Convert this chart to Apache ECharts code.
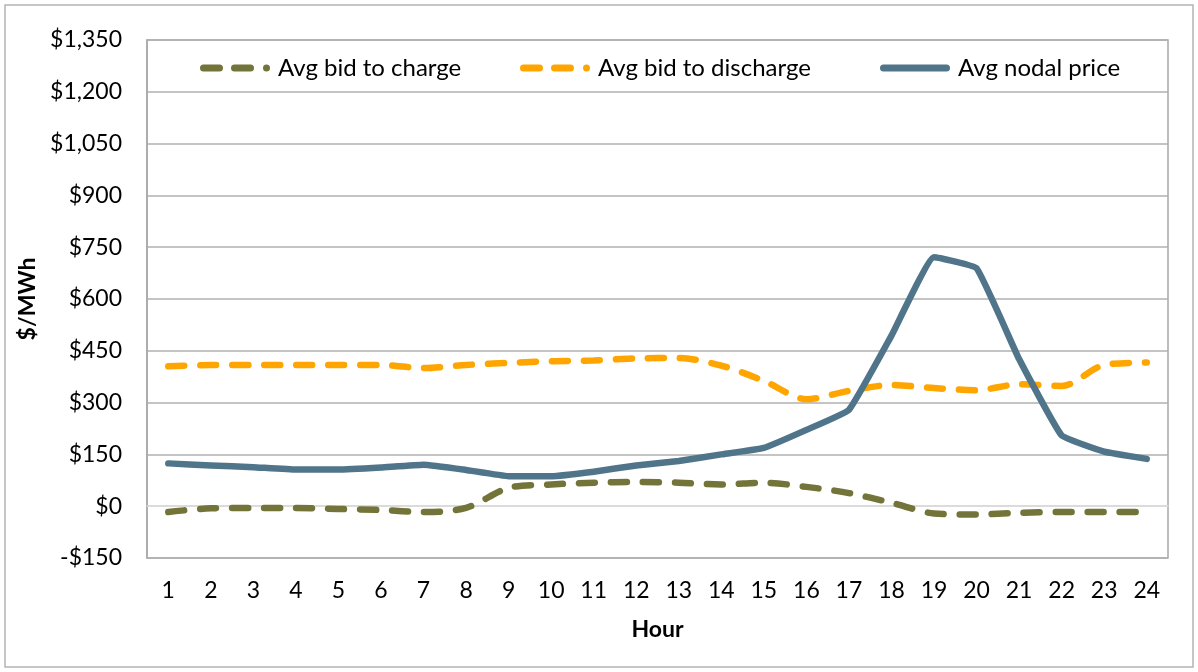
<!DOCTYPE html>
<html>
<head>
<meta charset="utf-8">
<script src="https://cdn.jsdelivr.net/npm/echarts@6/dist/echarts.min.js"></script>
<style>
html,body{margin:0;padding:0;background:#fff;}
#chart{width:1198px;height:672px;}
</style>
</head>
<body>
<div id="chart"></div>
<script>
const hours = ['1','2','3','4','5','6','7','8','9','10','11','12','13','14','15','16','17','18','19','20','21','22','23','24'];
const seriesNames = ['Avg bid to charge', 'Avg bid to discharge', 'Avg nodal price'];
const bidToCharge = [-17, -6, -5, -5, -8, -11, -17, -5, 53, 63, 68, 70, 68, 63, 68, 56, 38, 10, -21, -24, -19, -17, -17, -17];
const bidToDischarge = [405, 409, 409, 409, 409, 409, 400, 409, 415, 420, 422, 428, 429, 407, 363, 310, 334, 351, 342, 336, 353, 348, 409, 416];
const nodalPrice = [124, 118, 113, 106, 106, 112, 120, 105, 87, 87, 100, 118, 131, 150, 169, 221, 279, 494, 721, 689, 426, 205, 158, 137];
const yTicks = { min: -150, max: 1350, step: 150 };
const axisTitles = { x: 'Hour', y: '$/MWh' };

function fmtDollar(v) {
  const s = Math.abs(v).toLocaleString('en-US');
  return (v < 0 ? '-$' : '$') + s;
}

const FONT = 'Lato';
const COLORS = ['#737439', '#FFA500', '#50758A'];
const chart = echarts.init(document.getElementById('chart'), null, { renderer: 'canvas' });

const gridColors = [];
for (let v = yTicks.min; v <= yTicks.max; v += yTicks.step) {
  gridColors.push(v === 0 ? '#D9D9D9' : '#B0B0B0');
}

const dash = [16, 16];
// legend icons (70 x 7 box): dash, dash, dot / solid bar
const dashIcon = 'path://M3.5,0 L19.5,0 A3.5,3.5 0 0 1 19.5,7 L3.5,7 A3.5,3.5 0 0 1 3.5,0 Z ' +
                 'M34.5,0 L50.5,0 A3.5,3.5 0 0 1 50.5,7 L34.5,7 A3.5,3.5 0 0 1 34.5,0 Z ' +
                 'M66.5,0 A3.5,3.5 0 0 1 66.5,7 A3.5,3.5 0 0 1 66.5,0 Z';
const solidIcon = 'path://M3.5,0 L66.5,0 A3.5,3.5 0 0 1 66.5,7 L3.5,7 A3.5,3.5 0 0 1 3.5,0 Z';
const legendLeft = [195, 515, 875];
const legendIcons = [dashIcon, dashIcon, solidIcon];

const legends = seriesNames.map((n, i) => ({
  top: 51, left: legendLeft[i],
  itemWidth: 72, itemHeight: 7, itemGap: 0,
  icon: legendIcons[i],
  itemStyle: { borderWidth: 0 },
  textStyle: { fontFamily: FONT, fontSize: 24, color: '#000', padding: [0, 0, 0, 2] },
  data: [n]
}));

chart.setOption({
  backgroundColor: '#ffffff',
  animation: false,
  textStyle: { fontFamily: FONT },
  graphic: [{
    type: 'rect',
    shape: { x: 5, y: 5, width: 1188, height: 662 },
    style: { fill: null, stroke: '#B4B4B4', lineWidth: 1.5 },
    silent: true
  }],
  grid: {
    left: 147, right: 30, top: 40, bottom: 114,
    show: true, borderColor: '#A8A8A8', borderWidth: 1.5,
    containLabel: false
  },
  legend: legends,
  xAxis: {
    type: 'category',
    data: hours,
    boundaryGap: true,
    axisLine: { onZero: true, lineStyle: { color: '#D9D9D9', width: 1.5 } },
    axisTick: { show: false },
    axisLabel: { fontFamily: FONT, fontSize: 23, color: '#000', margin: 21, interval: 0 },
    name: axisTitles.x,
    nameLocation: 'middle',
    nameGap: 60,
    nameTextStyle: { fontFamily: FONT, fontSize: 23, fontWeight: 'bold', color: '#000' },
    splitLine: { show: false }
  },
  yAxis: {
    type: 'value',
    min: yTicks.min, max: yTicks.max, interval: yTicks.step,
    axisLine: { show: true, lineStyle: { color: '#A8A8A8', width: 1.5 } },
    axisTick: { show: false },
    axisLabel: { fontFamily: FONT, fontSize: 23, color: '#000', margin: 25, formatter: fmtDollar },
    splitLine: { show: true, lineStyle: { color: gridColors, width: 1.5 } },
    name: axisTitles.y,
    nameLocation: 'middle',
    nameRotate: 90,
    nameGap: 102,
    nameTextStyle: { fontFamily: FONT, fontSize: 23, fontWeight: 'bold', color: '#000' }
  },
  series: [
    {
      name: seriesNames[0], type: 'line', data: bidToCharge,
      symbol: 'none', smooth: 0.3,
      lineStyle: { color: COLORS[0], width: 6.5, type: dash, cap: 'round' },
      itemStyle: { color: COLORS[0] }
    },
    {
      name: seriesNames[1], type: 'line', data: bidToDischarge,
      symbol: 'none', smooth: 0.3,
      lineStyle: { color: COLORS[1], width: 6.5, type: dash, cap: 'round' },
      itemStyle: { color: COLORS[1] }
    },
    {
      name: seriesNames[2], type: 'line', data: nodalPrice,
      symbol: 'none', smooth: 0.1,
      lineStyle: { color: COLORS[2], width: 6.5, cap: 'round', join: 'round' },
      itemStyle: { color: COLORS[2] }
    }
  ]
});
</script>
</body>
</html>
